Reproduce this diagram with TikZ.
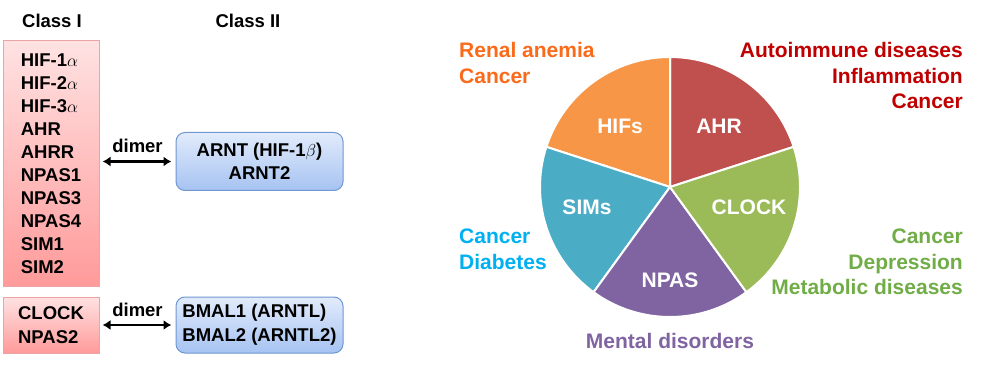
\documentclass[tikz,border=0pt]{standalone}
\usepackage{fontspec}
\setmainfont{Liberation Sans}
\usetikzlibrary{arrows.meta}
\definecolor{pinktop}{HTML}{FFE2E2}
\definecolor{pinkbot}{HTML}{FF9A9A}
\definecolor{pinkline}{HTML}{EBA3A3}
\definecolor{bluetop}{HTML}{E2EBFB}
\definecolor{bluebot}{HTML}{A6C3F2}
\definecolor{blueline}{HTML}{6F97D2}
\definecolor{ahrcol}{HTML}{C0504D}
\definecolor{hifcol}{HTML}{F79646}
\definecolor{simcol}{HTML}{4BACC6}
\definecolor{npascol}{HTML}{8064A2}
\definecolor{clockcol}{HTML}{9BBB59}
\definecolor{orangetxt}{HTML}{F96B1A}
\definecolor{redtxt}{HTML}{C00000}
\definecolor{cyantxt}{HTML}{00B0F0}
\definecolor{greentxt}{HTML}{70AD47}
\tikzset{
  classone/.style={rectangle, draw=pinkline, line width=1pt, top color=pinktop,
    bottom color=pinkbot, minimum width=96pt, align=left, inner sep=0pt,
    font=\fontsize{18.5}{23}\selectfont\bfseries},
  classtwo/.style={rectangle, rounded corners=9pt, draw=blueline, line width=1pt,
    top color=bluetop, bottom color=bluebot, minimum width=167pt, minimum height=58pt,
    inner sep=0pt, font=\fontsize{18.5}{23}\selectfont\bfseries},
  dimerarrow/.style={{Latex[length=8pt,width=10pt]}-{Latex[length=8pt,width=10pt]},
    line width=2.6pt, shorten <=3pt, shorten >=4pt},
  lbl/.style={font=\fontsize{18.5}{23}\selectfont\bfseries},
  slicelbl/.style={text=white, font=\fontsize{21}{25}\selectfont\bfseries},
  disease/.style={font=\fontsize{21}{25.5}\selectfont\bfseries, inner sep=0pt},
}
\begin{document}
\begin{tikzpicture}[x=1pt,y=1pt]
  \useasboundingbox (0,0) rectangle (983,-366);
  % Class I and class II partners
  \node[lbl] (hclass1) at (52,-21) {Class I};
  \node[lbl] (hclass2) at (248,-21) {Class II};
  \node[classone, minimum height=246pt] (cls1) at (51,-164)
    {HIF-1$\alpha$\\HIF-2$\alpha$\\HIF-3$\alpha$\\AHR\\AHRR\\NPAS1\\NPAS3\\NPAS4\\SIM1\\SIM2};
  \node[classone, minimum height=56pt, font=\fontsize{18.5}{24}\selectfont\bfseries] (clk) at (51,-325)
    {CLOCK\\NPAS2};
  \node[classtwo, align=center] (arnt) at (259.5,-161.5) {ARNT (HIF-1$\beta$)\\ARNT2};
  \node[classtwo, align=left, minimum height=56pt, font=\fontsize{18.5}{24}\selectfont\bfseries] (bmal) at (259.5,-325)
    {BMAL1 (ARNTL)\\BMAL2 (ARNTL2)};
  \draw[dimerarrow] (arnt.west -| cls1.east) -- node[lbl, above=4pt] {dimer} (arnt.west);
  \draw[dimerarrow] (clk.east) -- node[lbl, above=4pt] {dimer} (bmal.west);
  % Pie of subfamilies
  \coordinate (pc) at (670,-187);
  \foreach \a/\c in {18/ahrcol,90/hifcol,162/simcol,234/npascol,306/clockcol}{
    \fill[\c, draw=white, line width=2pt, line join=round]
      (pc) -- ++(\a:130) arc[start angle=\a, end angle=\a+72, radius=130] -- cycle;
  }
  \node[slicelbl] (hifs) at (620,-126) {HIFs};
  \node[slicelbl] (ahr) at (719,-126) {AHR};
  \node[slicelbl] (sims) at (587,-207) {SIMs};
  \node[slicelbl] (clock) at (749,-207) {CLOCK};
  \node[slicelbl] (npas) at (670,-280) {NPAS};
  % Diseases
  \node[disease, text=orangetxt, align=left, anchor=west] (dhif) at (459,-63) {Renal anemia\\Cancer};
  \node[disease, text=redtxt, align=right, anchor=east] (dahr) at (963,-75.5)
    {Autoimmune diseases\\Inflammation\\Cancer};
  \node[disease, text=cyantxt, align=left, anchor=west] (dsim) at (459,-249.5) {Cancer\\Diabetes};
  \node[disease, text=greentxt, align=right, anchor=east] (dclock) at (963,-262)
    {Cancer\\Depression\\Metabolic diseases};
  \node[disease, text=npascol] (dnpas) at (670,-341) {Mental disorders};
\end{tikzpicture}
\end{document}
